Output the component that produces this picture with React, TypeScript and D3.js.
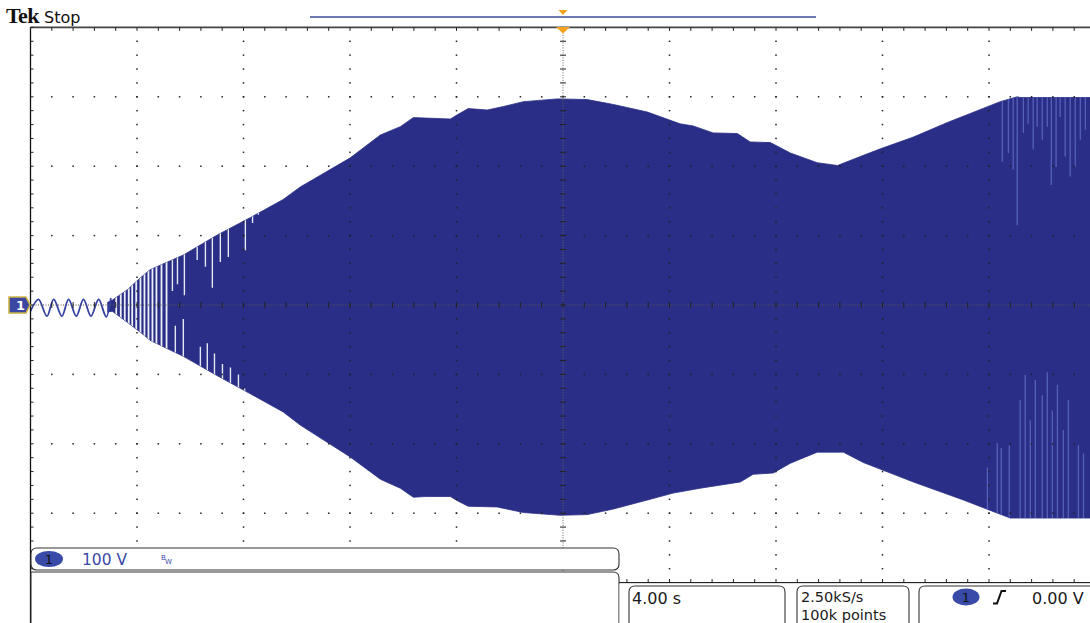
import React from "react";
import * as d3 from "d3";

// ---- Scope settings ----
const TIME_PER_DIV = 4; // s/div
const VOLT_PER_DIV = 100; // V/div

// ---- Pre-chirp small sine: extrema (time s, volts) ----
const sineT = [-20.0, -19.7, -19.38, -19.13, -18.82, -18.57, -18.28, -18.01, -17.73, -17.44, -17.15, -16.98];
const sineV = [-9, 8, -16, 8, -16, 8, -16, 8, -16, 8, -17, 10];

// ---- Upper envelope (time s, volts) ----
const upperT = [-17.1, -16.93, -16.36, -15.88, -15.5, -14.26, -12.98, -11.74, -10.51, -9.87, -7.99, -6.86, -6.11, -5.62, -4.23, -3.97, -3.56, -2.84, -2.24, -1.49, -0.21, 0.91, 1.89, 3.17, 4.4, 4.89, 5.64, 6.55, 7.03, 7.79, 8.54, 9.55, 10.31, 11.17, 11.92, 13.16, 14.44, 15.3, 16.42, 17.06, 17.17, 20.2];
const upperV = [4, 7, 22, 39, 51, 72, 101, 126, 152, 170, 212, 245, 257, 270, 268, 274, 283, 281, 286, 293, 297, 296, 289, 278, 261, 258, 248, 247, 235, 234, 219, 205, 201, 214, 225, 242, 263, 276, 293, 300, 299, 299];

// ---- Lower envelope (time s, volts) ----
const lowerT = [-17.1, -16.93, -16.36, -15.88, -15.5, -14.26, -12.98, -11.74, -10.51, -9.87, -7.99, -6.86, -6.11, -5.62, -5.17, -4.23, -3.97, -3.56, -2.47, -1.49, -0.1, 0.91, 1.89, 3.17, 4.14, 5.15, 6.66, 7.14, 7.9, 8.54, 9.55, 10.53, 11.28, 13.16, 15.04, 16.05, 16.8, 20.2];
const lowerV = [-10, -9, -25, -39, -51, -74, -102, -128, -154, -173, -219, -251, -264, -277, -276, -276, -282, -290, -291, -299, -303, -302, -294, -281, -271, -264, -255, -244, -242, -228, -212, -212, -227, -255, -281, -296, -307, -307];

// ---- Gaps in the chirp (full height) ----
const gapFullT = [-16.78, -16.61, -16.46, -16.31, -16.18, -16.03, -15.87, -15.72, -15.57, -15.42, -15.27, -15.08, -14.89];
// gaps reaching down from the upper edge: time, lowest volts
const gapUpT = [-14.67, -14.48, -14.22, -13.74, -13.43, -13.17, -12.87, -12.57, -11.93, -11.66, -11.44];
const gapUpLo = [20, 30, 14, 65, 55, 25, 62, 69, 79, 118, 130];
// gaps reaching up from the lower edge: time, highest volts
const gapDnT = [-14.56, -14.26, -13.62, -13.36, -13.09, -12.79, -12.49, -12.19, -11.96];
const gapDnHi = [-30, -20, -60, -55, -70, -85, -90, -100, -120];

// ---- Lighter strokes at the right end ----
const rightUpT = [16.5, 16.73, 16.91, 17.06, 17.29, 17.47, 17.66, 17.81, 18.0, 18.19, 18.34, 18.52, 18.67, 18.86, 19.05, 19.24, 19.43, 19.62];
const rightUpLo = [206, 219, 195, 115, 248, 261, 224, 257, 238, 257, 173, 199, 271, 214, 185, 199, 238, 253];
const rightDnT = [15.94, 16.31, 16.46, 16.76, 17.17, 17.36, 17.55, 17.74, 18.0, 18.19, 18.38, 18.57, 18.79, 18.98, 19.36, 19.55];
const rightDnHi = [-234, -199, -206, -202, -137, -101, -166, -108, -130, -97, -152, -115, -180, -137, -202, -214];

// ---- Readouts ----
const chLabel = "1";
const voltLabel = "100 V";
const timeLabel = "4.00 s";
const rateLabel = "2.50kS/s";
const pointsLabel = "100k points";
const trigLabel = "0.00 V";

const X0 = 30.5;
const DIVS_X = 10;
const DIVS_Y = 8;
const DIV_W = 106.5;
const Y_TOP = 27.4;
const DIV_H = 69.4;
const Y_BOT = Y_TOP + DIVS_Y * DIV_H;

const NAVY = "#2a2e86";
const FONT = "'DejaVu Sans', Verdana, sans-serif";

export default function App() {
  const x = d3.scaleLinear().domain([-(DIVS_X / 2) * TIME_PER_DIV, (DIVS_X / 2) * TIME_PER_DIV]).range([X0, X0 + DIVS_X * DIV_W]);
  const y = d3.scaleLinear().domain([-(DIVS_Y / 2) * VOLT_PER_DIV, (DIVS_Y / 2) * VOLT_PER_DIV]).range([Y_BOT, Y_TOP]);

  const upper = upperT.map((t, i) => ({ t, v: upperV[i] }));
  const lower = lowerT.map((t, i) => ({ t, v: lowerV[i] }));
  const env = [...upper, ...lower.slice().reverse()];
  const envLine = d3.line<{ t: number; v: number }>().x((d) => x(d.t)).y((d) => y(d.v));
  const envPath = envLine(env) + "Z";

  const sine = sineT.map((t, i) => ({ t, v: sineV[i] }));
  const sinePath = d3
    .line<{ t: number; v: number }>()
    .x((d) => x(d.t))
    .y((d) => y(d.v))
    .curve(d3.curveMonotoneX)(sine) as string;

  const tMin = -(DIVS_X / 2) * TIME_PER_DIV;
  const tMax = (DIVS_X / 2) * TIME_PER_DIV;
  const vMax = (DIVS_Y / 2) * VOLT_PER_DIV;
  const minorT = d3.range(tMin, tMax + 0.001, TIME_PER_DIV / 5);
  const minorV = d3.range(-vMax, vMax + 0.001, VOLT_PER_DIV / 5);
  const majorT = d3.range(tMin + TIME_PER_DIV, tMax - 0.001, TIME_PER_DIV).filter((t) => Math.abs(t) > 0.01);
  const majorV = d3.range(-vMax + VOLT_PER_DIV, vMax - 0.001, VOLT_PER_DIV).filter((v) => Math.abs(v) > 0.01);

  const cx = x(0);
  const cy = y(0);
  const W = 1090;
  const H = 623;

  const boxPath = (l: number, r: number, top: number) =>
    `M${l},${H + 2} L${l},${top + 6} Q${l},${top} ${l + 6},${top} L${r - 6},${top} Q${r},${top} ${r},${top + 6} L${r},${H + 2}`;

  return (
    <div style={{ position: "absolute", left: 0, top: 0, width: W, height: H, background: "#fff" }}>
      <svg width={W} height={H} viewBox={`0 0 ${W} ${H}`} style={{ display: "block" }}>
        <defs>
          <clipPath id="envClip">
            <path d={envPath} />
          </clipPath>
          <clipPath id="plotClip">
            <rect x={X0} y={Y_TOP} width={W - X0} height={Y_BOT - Y_TOP} />
          </clipPath>
        </defs>

        {/* header */}
        <text x={6} y={23} fontFamily="'Liberation Serif', 'DejaVu Serif', serif" fontWeight="bold" fontSize={22} fill="#111" letterSpacing={-0.6}>
          Tek
        </text>
        <text x={44} y={23} fontFamily={FONT} fontSize={16} fill="#111">
          Stop
        </text>
        <line x1={310} x2={816} y1={17} y2={17} stroke="#3b4a9c" strokeWidth={1.3} />
        <path d={`M${cx - 4.5},10 L${cx + 4.5},10 L${cx},15 Z`} fill="#f5a21e" />

        {/* waveform */}
        <g clipPath="url(#plotClip)">
          <path d={envPath} fill={NAVY} stroke={NAVY} strokeWidth={0.8} />
          <g clipPath="url(#envClip)">
            {gapFullT.map((t, i) => (
              <line key={"gf" + i} x1={x(t)} x2={x(t)} y1={y(vMax)} y2={y(-vMax)} stroke="#eef0f8" strokeWidth={1.8} />
            ))}
            {gapUpT.map((t, i) => (
              <line key={"gu" + i} x1={x(t)} x2={x(t)} y1={y(vMax)} y2={y(gapUpLo[i])} stroke="#e4e7f4" strokeWidth={1.4} />
            ))}
            {gapDnT.map((t, i) => (
              <line key={"gd" + i} x1={x(t)} x2={x(t)} y1={y(gapDnHi[i])} y2={y(-vMax)} stroke="#e4e7f4" strokeWidth={1.4} />
            ))}
            {rightUpT.map((t, i) => (
              <line key={"ru" + i} x1={x(t)} x2={x(t)} y1={y(vMax)} y2={y(rightUpLo[i])} stroke="#5561b8" strokeWidth={1.3} />
            ))}
            {rightDnT.map((t, i) => (
              <line key={"rd" + i} x1={x(t)} x2={x(t)} y1={y(rightDnHi[i])} y2={y(-vMax)} stroke="#5561b8" strokeWidth={1.3} />
            ))}
          </g>
          <path d={sinePath} fill="none" stroke="#3442a2" strokeWidth={1.8} />
        </g>

        {/* graticule dots */}
        {majorT.map((t) =>
          minorV.slice(1, -1).map((v) => (
            <rect key={`vd${t}_${v}`} x={x(t) - 0.75} y={y(v) - 0.75} width={1.5} height={1.5} fill="#222" />
          ))
        )}
        {majorV.map((v) =>
          minorT.slice(1).map((t) => (
            <rect key={`hd${t}_${v}`} x={x(t) - 0.75} y={y(v) - 0.75} width={1.5} height={1.5} fill="#222" />
          ))
        )}
        {/* center crosshair */}
        <line x1={X0} x2={W} y1={cy} y2={cy} stroke="#555" strokeWidth={1} strokeDasharray="1,1.5" />
        <line x1={cx} x2={cx} y1={Y_TOP} y2={Y_BOT} stroke="#666" strokeWidth={1} strokeDasharray="1,1.5" />
        {minorT.map((t) => (
          <line key={"ct" + t} x1={x(t)} x2={x(t)} y1={cy - 3} y2={cy + 3} stroke="#222" strokeWidth={1} />
        ))}
        {minorV.map((v) => (
          <line key={"cv" + v} x1={cx - 3} x2={cx + 3} y1={y(v)} y2={y(v)} stroke="#222" strokeWidth={1} />
        ))}
        {/* border */}
        <line x1={X0} x2={W} y1={Y_TOP} y2={Y_TOP} stroke="#444" strokeWidth={1.6} />
        <line x1={X0} x2={X0} y1={Y_TOP} y2={H} stroke="#111" strokeWidth={1.3} />
        {minorT.map((t) => (
          <line key={"tt" + t} x1={x(t)} x2={x(t)} y1={Y_TOP} y2={Y_TOP + 3.5} stroke="#222" strokeWidth={1} />
        ))}
        {minorV.map((v) => (
          <line key={"lt" + v} x1={X0} x2={X0 + 3} y1={y(v)} y2={y(v)} stroke="#222" strokeWidth={1} />
        ))}
        <line x1={619} x2={W} y1={Y_BOT} y2={Y_BOT} stroke="#222" strokeWidth={1.3} />
        {minorT.map((t) => (
          <line key={"bt" + t} x1={x(t)} x2={x(t)} y1={Y_BOT - 3.5} y2={Y_BOT} stroke="#222" strokeWidth={1} />
        ))}

        {/* trigger position marker */}
        <path d={`M${cx - 7},${Y_TOP - 0.5} L${cx + 7},${Y_TOP - 0.5} L${cx},${Y_TOP + 6} Z`} fill="#f5a21e" />

        {/* channel 1 ground marker */}
        <path d={`M9,${cy - 8} L26,${cy - 8} L30,${cy} L26,${cy + 8} L9,${cy + 8} Z`} fill="#3a48a4" stroke="#cdb445" strokeWidth={1.6} />
        <text x={16} y={cy + 5} fontFamily={FONT} fontSize={13} fontWeight="bold" fill="#fff">
          {chLabel}
        </text>

        {/* channel readout */}
        <path d="M31,554 Q31,548 37,548 L613,548 Q619,548 619,554 L619,564 Q619,570 613,570 L37,570 Q31,570 31,564 Z" fill="#fff" stroke="#333" strokeWidth={1.1} />
        <path d={`M31,${H + 2} L31,572 L613,572 Q619,572 619,578 L619,${H + 2}`} fill="#fff" stroke="#333" strokeWidth={1.1} />
        <ellipse cx={49} cy={559} rx={14} ry={8} fill="#3a4aa8" />
        <text x={49} y={564} textAnchor="middle" fontFamily={FONT} fontSize={13} fill="#111">
          {chLabel}
        </text>
        <text x={82} y={565} fontFamily={FONT} fontSize={15.5} fill="#3a48a8">
          {voltLabel}
        </text>
        <text x={161} y={560} fontFamily={FONT} fontSize={7} fill="#3a48a8">
          B
        </text>
        <text x={165} y={564} fontFamily={FONT} fontSize={7} fill="#3a48a8">
          W
        </text>

        {/* bottom right readouts */}
        <rect x={619.5} y={Y_BOT + 1} width={W - 619} height={H - Y_BOT} fill="#fff" />
        <path d={boxPath(629, 785, 586)} fill="#fff" stroke="#333" strokeWidth={1.1} />
        <path d={boxPath(797, 909, 586)} fill="#fff" stroke="#333" strokeWidth={1.1} />
        <path d={boxPath(919, W + 10, 586)} fill="#fff" stroke="#333" strokeWidth={1.1} />
        <text x={632} y={604} fontFamily={FONT} fontSize={16} fill="#1a1a1a">
          {timeLabel}
        </text>
        <text x={801} y={602} fontFamily={FONT} fontSize={14.5} fill="#1a1a1a">
          {rateLabel}
        </text>
        <text x={801} y={620} fontFamily={FONT} fontSize={14.5} fill="#1a1a1a">
          {pointsLabel}
        </text>
        <ellipse cx={966} cy={597} rx={13.5} ry={8.5} fill="#3a4aa8" />
        <text x={966} y={602} textAnchor="middle" fontFamily={FONT} fontSize={13} fill="#111">
          {chLabel}
        </text>
        <path d="M993,603.5 L997,603.5 L1001.5,591 L1006,591" fill="none" stroke="#111" strokeWidth={2} />
        <text x={1032} y={604} fontFamily={FONT} fontSize={16} fill="#1a1a1a">
          {trigLabel}
        </text>
      </svg>
    </div>
  );
}
